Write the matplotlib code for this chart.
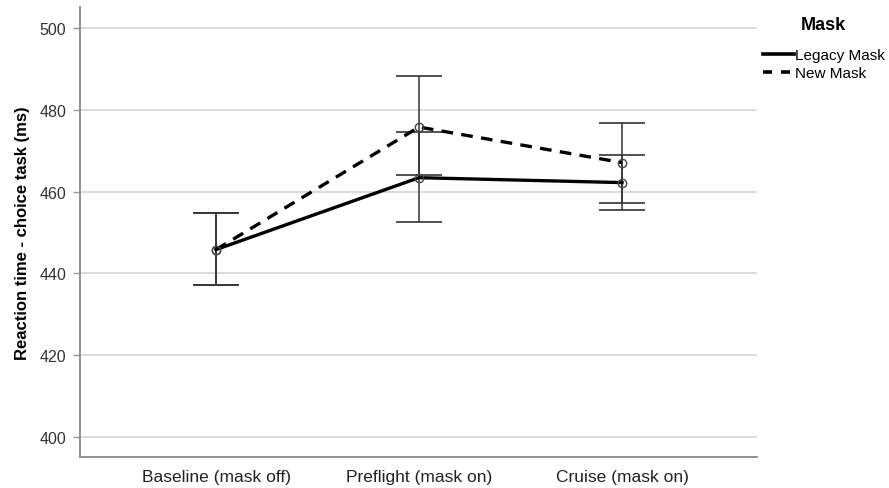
import matplotlib
matplotlib.use("Agg")
import matplotlib.pyplot as plt
from matplotlib.lines import Line2D
import numpy as np

plt.rcParams['font.family'] = ['Liberation Sans', 'DejaVu Sans']

categories = ["Baseline (mask off)", "Preflight (mask on)", "Cruise (mask on)"]
legacy_mean = [445.8, 463.4, 462.2]
legacy_low = [437.0, 452.6, 455.4]
legacy_high = [454.7, 474.6, 468.9]
new_mean = [445.8, 475.8, 467.1]
new_low = [437.0, 464.0, 457.3]
new_high = [454.7, 488.2, 476.7]
y_ticks = [400, 420, 440, 460, 480, 500]

fig = plt.figure(figsize=(8.89, 4.89), dpi=100)
ax = fig.add_axes([80/889, 1-458/489, (757-80)/889, (458-8)/489])

x = np.arange(len(categories))
for yt in y_ticks:
    ax.axhline(yt, color='#d4d4d4', lw=1.2, zorder=0)

def draw(mean, low, high, ls):
    mean = np.array(mean); low = np.array(low); high = np.array(high)
    ax.errorbar(x, mean, yerr=[mean-low, high-mean], fmt='none', ecolor='#333333',
                elinewidth=1.1, capsize=16.3, capthick=1.2, zorder=2)
    ax.plot(x, mean, color='black', lw=2.4, ls=ls, zorder=3)
    ax.plot(x, mean, ls='none', marker='o', ms=6, mfc='none', mec='#444444', mew=1.0, zorder=4)

draw(legacy_mean, legacy_low, legacy_high, '-')
draw(new_mean, new_low, new_high, (0, (3.5, 2.5)))

ax.set_xlim(-0.67, 2.665)
ax.set_ylim(395, 505.2)
ax.set_yticks(y_ticks)
ax.set_xticks(x)
ax.set_xticklabels(categories, fontsize=12.5, color='#222222')
ax.tick_params(axis='y', labelsize=11.5, labelcolor='#333333', length=5, color='#999999', width=1, pad=5)
ax.tick_params(axis='x', length=0, pad=9)
for s in ['top', 'right']:
    ax.spines[s].set_visible(False)
for s in ['left', 'bottom']:
    ax.spines[s].set_color('#888888')
    ax.spines[s].set_linewidth(1.3)
ax.set_ylabel('Reaction time - choice task (ms)', fontsize=12, fontweight='bold', labelpad=7)

handles = [Line2D([], [], color='black', lw=2.6, ls='-'),
           Line2D([], [], color='black', lw=2.6, ls=(0, (2.5, 2.5)))]
leg = fig.legend(handles, ['Legacy Mask', 'New Mask'], loc='upper left',
                 bbox_to_anchor=(757/889, 1-43/489), frameon=False, fontsize=11,
                 handlelength=2.0, handletextpad=0.1, labelspacing=0.25, borderaxespad=0)
fig.text(823/889, 1-25/489, 'Mask', fontsize=13, fontweight='bold', ha='center', va='center')

fig.savefig('out.png', dpi=100)
